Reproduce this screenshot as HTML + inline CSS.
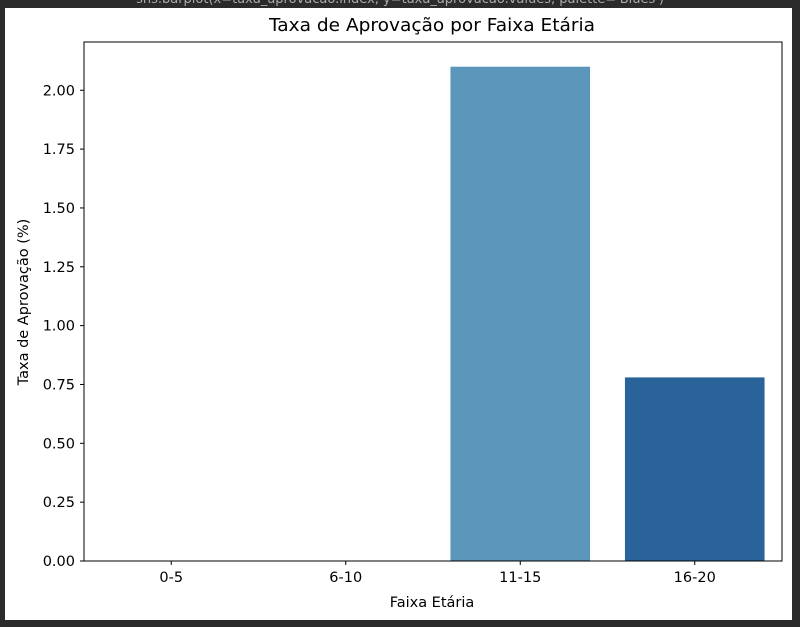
<!DOCTYPE html>
<html><head><meta charset="utf-8"><style>
html,body{margin:0;padding:0;background:#2b2b2b;}
svg{display:block;font-family:"DejaVu Sans","Liberation Sans",sans-serif;}
</style></head><body>
<svg id="chart" width="800" height="627">
<rect x="5" y="8" width="787" height="612" fill="#ffffff"/>
<text x="400" y="3" font-size="13" fill="#aaaaaa" text-anchor="middle">sns.barplot(x=taxa_aprovacao.index, y=taxa_aprovacao.values, palette='Blues')</text>
<text x="432" y="31" font-size="18" fill="#000" text-anchor="middle" textLength="326" lengthAdjust="spacingAndGlyphs">Taxa de Aprovação por Faixa Etária</text>
<g id="bars"></g>
<g id="axes"></g>
<text x="432" y="607" font-size="14.5" fill="#000" text-anchor="middle">Faixa Etária</text>
<text transform="translate(28,302) rotate(-90)" font-size="14.5" fill="#000" text-anchor="middle">Taxa de Aprovação (%)</text>
</svg>
<script>
const categories = ["0-5","6-10","11-15","16-20"];
const values = [0, 0, 2.10, 0.78];
const colors = ["#c6dbef","#9ecae1","#5b96bb","#2a6399"];
const yTicks = [0,0.25,0.5,0.75,1.0,1.25,1.5,1.75,2.0];
const yTickLabels = ["0.00","0.25","0.50","0.75","1.00","1.25","1.50","1.75","2.00"];

const L=84,R=782,T=42,B=561;
const yMax=2.205;
const y=v=>B-(v/yMax)*(B-T);
const step=(R-L)/categories.length;
const x=i=>L+step*(i+0.5);
const bw=step*0.8;
const NS="http://www.w3.org/2000/svg";
const bars=document.getElementById('bars'), axes=document.getElementById('axes');
function mk(tag,attrs,parent){const e=document.createElementNS(NS,tag);for(const k in attrs)e.setAttribute(k,attrs[k]);parent.appendChild(e);return e;}
values.forEach((v,i)=>{
  const r=mk('rect',{x:x(i)-bw/2,y:y(v),width:bw,height:B-y(v),fill:colors[i]},bars);
  
  
});
const frame=mk('rect',{x:L,y:T,width:R-L,height:B-T,fill:'none',stroke:'#000','stroke-width':1},axes);


yTicks.forEach((t,i)=>{
  const ln=mk('line',{x1:L-4,x2:L,y1:y(t),y2:y(t),stroke:'#000'},axes);
  
  
  const tx=mk('text',{x:L-9,y:y(t)+5,'font-size':14.5,'text-anchor':'end',fill:'#000'},axes);
  tx.textContent=yTickLabels[i];
  
  
});
categories.forEach((c,i)=>{
  const ln=mk('line',{x1:x(i),x2:x(i),y1:B,y2:B+4,stroke:'#000'},axes);
  
  
  const tx=mk('text',{x:x(i),y:B+21,'font-size':14.5,'text-anchor':'middle',fill:'#000'},axes);
  tx.textContent=c;
  
  
});
</script>
</body></html>
